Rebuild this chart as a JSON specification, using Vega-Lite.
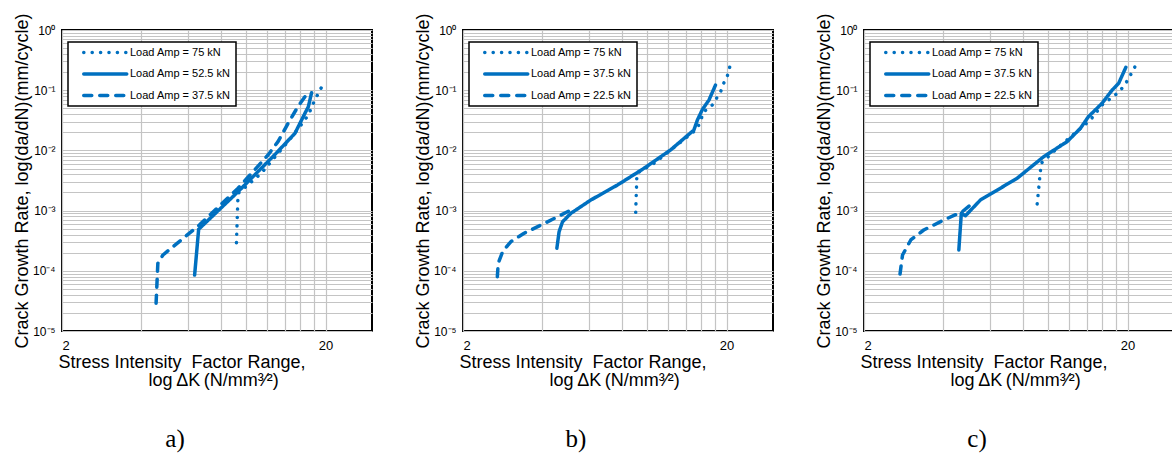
{
  "$schema": "https://vega.github.io/schema/vega-lite/v6.json",
  "padding": {"left": 12, "top": 11, "right": 0, "bottom": 0},
  "background": "white",
  "config": {
    "font": "Liberation Sans",
    "view": {"stroke": "black", "strokeWidth": 2},
    "axis": {
      "domain": false, "ticks": false, "labelOverlap": false, "labelBound": false,
      "gridColor": "#c4c4c4", "gridWidth": 1.2, "gridOpacity": 1,
      "labelFont": "Liberation Sans", "labelColor": "black",
      "titleFont": "Liberation Sans", "titleColor": "black", "titleFontWeight": "normal", "titleFontSize": 18
    },
    "legend": {
      "orient": "none", "legendX": 6, "legendY": 12,
      "strokeColor": "black", "padding": 5, "fillColor": "white",
      "labelFont": "Liberation Sans", "labelFontSize": 11, "labelColor": "black", "labelOffset": 1.25,
      "symbolType": "stroke", "symbolSize": 1849, "symbolStrokeWidth": 3.5, "symbolStrokeColor": "#0070C0",
      "symbolOffset": 8.75, "rowPadding": 9.5, "clipHeight": 11
    },
    "title": {"font": "Liberation Serif", "fontSize": 25, "fontWeight": "normal", "color": "black"}
  },
  "datasets": {
    "a": [
      {"series": "Load Amp = 75 kN", "i": 1, "K": 9.18, "rate": 0.000293},
      {"series": "Load Amp = 75 kN", "i": 2, "K": 9.31, "rate": 0.00194},
      {"series": "Load Amp = 75 kN", "i": 3, "K": 11.4, "rate": 0.00417},
      {"series": "Load Amp = 75 kN", "i": 4, "K": 14.4, "rate": 0.014},
      {"series": "Load Amp = 75 kN", "i": 5, "K": 15.96, "rate": 0.0248},
      {"series": "Load Amp = 75 kN", "i": 6, "K": 17.2, "rate": 0.0387},
      {"series": "Load Amp = 75 kN", "i": 7, "K": 17.96, "rate": 0.0605},
      {"series": "Load Amp = 75 kN", "i": 8, "K": 18.76, "rate": 0.0887},
      {"series": "Load Amp = 75 kN", "i": 9, "K": 19.3, "rate": 0.112},
      {"series": "Load Amp = 52.5 kN", "i": 1, "K": 6.37, "rate": 0.000085},
      {"series": "Load Amp = 52.5 kN", "i": 2, "K": 6.6, "rate": 0.00049},
      {"series": "Load Amp = 52.5 kN", "i": 3, "K": 9.31, "rate": 0.00206},
      {"series": "Load Amp = 52.5 kN", "i": 4, "K": 12.8, "rate": 0.0084},
      {"series": "Load Amp = 52.5 kN", "i": 5, "K": 15.3, "rate": 0.0192},
      {"series": "Load Amp = 52.5 kN", "i": 6, "K": 16.7, "rate": 0.0413},
      {"series": "Load Amp = 52.5 kN", "i": 7, "K": 17.2, "rate": 0.053},
      {"series": "Load Amp = 52.5 kN", "i": 8, "K": 17.7, "rate": 0.091},
      {"series": "Load Amp = 37.5 kN", "i": 1, "K": 4.55, "rate": 0.000029},
      {"series": "Load Amp = 37.5 kN", "i": 2, "K": 4.62, "rate": 0.000133},
      {"series": "Load Amp = 37.5 kN", "i": 3, "K": 4.83, "rate": 0.000183},
      {"series": "Load Amp = 37.5 kN", "i": 4, "K": 6.65, "rate": 0.00058},
      {"series": "Load Amp = 37.5 kN", "i": 5, "K": 9.31, "rate": 0.00235},
      {"series": "Load Amp = 37.5 kN", "i": 6, "K": 12.1, "rate": 0.0084},
      {"series": "Load Amp = 37.5 kN", "i": 7, "K": 13.2, "rate": 0.014},
      {"series": "Load Amp = 37.5 kN", "i": 8, "K": 14.4, "rate": 0.028},
      {"series": "Load Amp = 37.5 kN", "i": 9, "K": 15.7, "rate": 0.0532},
      {"series": "Load Amp = 37.5 kN", "i": 10, "K": 16.7, "rate": 0.078}
    ],
    "b": [
      {"series": "Load Amp = 75 kN", "i": 1, "K": 9.04, "rate": 0.000936},
      {"series": "Load Amp = 75 kN", "i": 2, "K": 9.14, "rate": 0.00417},
      {"series": "Load Amp = 75 kN", "i": 3, "K": 10.6, "rate": 0.0061},
      {"series": "Load Amp = 75 kN", "i": 4, "K": 13.0, "rate": 0.0123},
      {"series": "Load Amp = 75 kN", "i": 5, "K": 15.03, "rate": 0.0205},
      {"series": "Load Amp = 75 kN", "i": 6, "K": 15.7, "rate": 0.0264},
      {"series": "Load Amp = 75 kN", "i": 7, "K": 16.4, "rate": 0.044},
      {"series": "Load Amp = 75 kN", "i": 8, "K": 17.66, "rate": 0.0568},
      {"series": "Load Amp = 75 kN", "i": 9, "K": 18.98, "rate": 0.094},
      {"series": "Load Amp = 75 kN", "i": 10, "K": 19.5, "rate": 0.13},
      {"series": "Load Amp = 75 kN", "i": 11, "K": 20.2, "rate": 0.179},
      {"series": "Load Amp = 75 kN", "i": 12, "K": 20.8, "rate": 0.298},
      {"series": "Load Amp = 37.5 kN", "i": 1, "K": 4.54, "rate": 0.000236},
      {"series": "Load Amp = 37.5 kN", "i": 2, "K": 4.63, "rate": 0.000446},
      {"series": "Load Amp = 37.5 kN", "i": 3, "K": 4.77, "rate": 0.00065},
      {"series": "Load Amp = 37.5 kN", "i": 4, "K": 5.13, "rate": 0.0009},
      {"series": "Load Amp = 37.5 kN", "i": 5, "K": 6.11, "rate": 0.0015},
      {"series": "Load Amp = 37.5 kN", "i": 6, "K": 7.71, "rate": 0.00266},
      {"series": "Load Amp = 37.5 kN", "i": 7, "K": 9.72, "rate": 0.00504},
      {"series": "Load Amp = 37.5 kN", "i": 8, "K": 12.27, "rate": 0.0102},
      {"series": "Load Amp = 37.5 kN", "i": 9, "K": 15.03, "rate": 0.0218},
      {"series": "Load Amp = 37.5 kN", "i": 10, "K": 15.5, "rate": 0.032},
      {"series": "Load Amp = 37.5 kN", "i": 11, "K": 16.2, "rate": 0.048},
      {"series": "Load Amp = 37.5 kN", "i": 12, "K": 17.15, "rate": 0.0687},
      {"series": "Load Amp = 37.5 kN", "i": 13, "K": 18.16, "rate": 0.122},
      {"series": "Load Amp = 22.5 kN", "i": 1, "K": 2.70, "rate": 0.0000797},
      {"series": "Load Amp = 22.5 kN", "i": 2, "K": 2.72, "rate": 0.000133},
      {"series": "Load Amp = 22.5 kN", "i": 3, "K": 2.83, "rate": 0.00021},
      {"series": "Load Amp = 22.5 kN", "i": 4, "K": 3.04, "rate": 0.000305},
      {"series": "Load Amp = 22.5 kN", "i": 5, "K": 3.41, "rate": 0.00042},
      {"series": "Load Amp = 22.5 kN", "i": 6, "K": 4.06, "rate": 0.00061},
      {"series": "Load Amp = 22.5 kN", "i": 7, "K": 5.13, "rate": 0.00102},
      {"series": "Load Amp = 22.5 kN", "i": 8, "K": 5.3, "rate": 0.0011}
    ],
    "c": [
      {"series": "Load Amp = 75 kN", "i": 1, "K": 9.08, "rate": 0.00129},
      {"series": "Load Amp = 75 kN", "i": 2, "K": 9.40, "rate": 0.0061},
      {"series": "Load Amp = 75 kN", "i": 3, "K": 10.8, "rate": 0.0108},
      {"series": "Load Amp = 75 kN", "i": 4, "K": 14.45, "rate": 0.032},
      {"series": "Load Amp = 75 kN", "i": 5, "K": 16.2, "rate": 0.0605},
      {"series": "Load Amp = 75 kN", "i": 6, "K": 17.7, "rate": 0.078},
      {"series": "Load Amp = 75 kN", "i": 7, "K": 19.3, "rate": 0.114},
      {"series": "Load Amp = 75 kN", "i": 8, "K": 20.2, "rate": 0.157},
      {"series": "Load Amp = 75 kN", "i": 9, "K": 21.4, "rate": 0.252},
      {"series": "Load Amp = 37.5 kN", "i": 1, "K": 4.58, "rate": 0.000222},
      {"series": "Load Amp = 37.5 kN", "i": 2, "K": 4.68, "rate": 0.0009},
      {"series": "Load Amp = 37.5 kN", "i": 3, "K": 4.85, "rate": 0.00082},
      {"series": "Load Amp = 37.5 kN", "i": 4, "K": 5.53, "rate": 0.0015},
      {"series": "Load Amp = 37.5 kN", "i": 5, "K": 7.62, "rate": 0.00344},
      {"series": "Load Amp = 37.5 kN", "i": 6, "K": 9.61, "rate": 0.00787},
      {"series": "Load Amp = 37.5 kN", "i": 7, "K": 11.8, "rate": 0.014},
      {"series": "Load Amp = 37.5 kN", "i": 8, "K": 13.25, "rate": 0.0233},
      {"series": "Load Amp = 37.5 kN", "i": 9, "K": 14.2, "rate": 0.0363},
      {"series": "Load Amp = 37.5 kN", "i": 10, "K": 16.0, "rate": 0.0605},
      {"series": "Load Amp = 37.5 kN", "i": 11, "K": 17.46, "rate": 0.1},
      {"series": "Load Amp = 37.5 kN", "i": 12, "K": 18.5, "rate": 0.13},
      {"series": "Load Amp = 37.5 kN", "i": 13, "K": 19.7, "rate": 0.24},
      {"series": "Load Amp = 22.5 kN", "i": 1, "K": 2.74, "rate": 0.0000885},
      {"series": "Load Amp = 22.5 kN", "i": 2, "K": 2.80, "rate": 0.000183},
      {"series": "Load Amp = 22.5 kN", "i": 3, "K": 3.01, "rate": 0.000325},
      {"series": "Load Amp = 22.5 kN", "i": 4, "K": 3.37, "rate": 0.000476},
      {"series": "Load Amp = 22.5 kN", "i": 5, "K": 4.02, "rate": 0.000698},
      {"series": "Load Amp = 22.5 kN", "i": 6, "K": 4.72, "rate": 0.00096},
      {"series": "Load Amp = 22.5 kN", "i": 7, "K": 5.07, "rate": 0.00124},
      {"series": "Load Amp = 22.5 kN", "i": 8, "K": 5.3, "rate": 0.00135}
    ]
  },
  "bounds": "flush",
  "spacing": 91,
  "resolve": {"scale": {"strokeDash": "independent"}, "legend": {"strokeDash": "independent"}},
  "hconcat": [
    {
      "data": {"name": "a"},
      "width": 310, "height": 301,
      "title": {"text": "a)", "orient": "bottom", "anchor": "middle", "dx": -42, "offset": 38},
      "mark": {"type": "line", "color": "#0070C0", "strokeWidth": 3.5, "strokeCap": "round", "strokeJoin": "round"},
      "encoding": {
        "x": {"field": "K", "type": "quantitative", "scale": {"type": "log", "domain": [2, 30], "nice": false},
          "axis": {"values": [2, 4, 6, 8, 10, 12, 14, 16, 18, 20], "labelExpr": "datum.value == 2 ? '2' : datum.value == 20 ? '20' : ''", "labelFontSize": 13, "labelPadding": 8,
            "title": ["Stress Intensity\u00a0 Factor Range,", "\u200b\u00a0\u00a0\u00a0\u00a0\u00a0\u00a0\u00a0\u00a0\u00a0\u00a0\u00a0\u00a0\u00a0\u00a0\u00a0\u00a0\u00a0\u00a0log\u2009ΔK\u2009(N/mm³⁄²)"],
            "titleAlign": "left", "titleAnchor": "start", "titleX": -4, "titleY": 36, "titleBaseline": "alphabetic", "titleLineHeight": 18}},
        "y": {"field": "rate", "type": "quantitative", "scale": {"type": "log", "domain": [0.00001, 1], "nice": false},
          "axis": {"values": [0.00001,0.00002,0.00003,0.00004,0.00005,0.00006,0.00007,0.00008,0.00009,0.0001,0.0002,0.0003,0.0004,0.0005,0.0006,0.0007,0.0008,0.0009,0.001,0.002,0.003,0.004,0.005,0.006,0.007,0.008,0.009,0.01,0.02,0.03,0.04,0.05,0.06,0.07,0.08,0.09,0.1,0.2,0.3,0.4,0.5,0.6,0.7,0.8,0.9,1],
            "labelExpr": "datum.value == 1 ? '10⁰' : datum.value == 0.1 ? '10⁻¹' : datum.value == 0.01 ? '10⁻²' : datum.value == 0.001 ? '10⁻³' : datum.value == 0.0001 ? '10⁻⁴' : datum.value == 0.00001 ? '10⁻⁵' : ''",
            "labelFontSize": 12, "labelPadding": 7,
            "title": "Crack Growth Rate, log(da/dN)(mm/cycle)", "titleX": -40, "titleBaseline": "middle"}},
        "strokeDash": {"field": "series", "type": "nominal",
          "scale": {"domain": ["Load Amp = 75 kN", "Load Amp = 52.5 kN", "Load Amp = 37.5 kN"], "range": [[0.1, 8.3], [1, 0], [8, 8]]},
          "legend": {"title": null,
            "encode": {"symbols": {"update": {"strokeCap": {"value": "round"}}}, "legend": {"update": {"strokeWidth": {"value": 1.5}, "width": {"value": 172}}}}}},
        "order": {"field": "i", "type": "quantitative"}
      }
    },
    {
      "data": {"name": "b"},
      "width": 310, "height": 301,
      "title": {"text": "b)", "orient": "bottom", "anchor": "middle", "dx": -42, "offset": 38},
      "mark": {"type": "line", "color": "#0070C0", "strokeWidth": 3.5, "strokeCap": "round", "strokeJoin": "round"},
      "encoding": {
        "x": {"field": "K", "type": "quantitative", "scale": {"type": "log", "domain": [2, 30], "nice": false},
          "axis": {"values": [2, 4, 6, 8, 10, 12, 14, 16, 18, 20], "labelExpr": "datum.value == 2 ? '2' : datum.value == 20 ? '20' : ''", "labelFontSize": 13, "labelPadding": 8,
            "title": ["Stress Intensity\u00a0 Factor Range,", "\u200b\u00a0\u00a0\u00a0\u00a0\u00a0\u00a0\u00a0\u00a0\u00a0\u00a0\u00a0\u00a0\u00a0\u00a0\u00a0\u00a0\u00a0\u00a0log\u2009ΔK\u2009(N/mm³⁄²)"],
            "titleAlign": "left", "titleAnchor": "start", "titleX": -4, "titleY": 36, "titleBaseline": "alphabetic", "titleLineHeight": 18}},
        "y": {"field": "rate", "type": "quantitative", "scale": {"type": "log", "domain": [0.00001, 1], "nice": false},
          "axis": {"values": [0.00001,0.00002,0.00003,0.00004,0.00005,0.00006,0.00007,0.00008,0.00009,0.0001,0.0002,0.0003,0.0004,0.0005,0.0006,0.0007,0.0008,0.0009,0.001,0.002,0.003,0.004,0.005,0.006,0.007,0.008,0.009,0.01,0.02,0.03,0.04,0.05,0.06,0.07,0.08,0.09,0.1,0.2,0.3,0.4,0.5,0.6,0.7,0.8,0.9,1],
            "labelExpr": "datum.value == 1 ? '10⁰' : datum.value == 0.1 ? '10⁻¹' : datum.value == 0.01 ? '10⁻²' : datum.value == 0.001 ? '10⁻³' : datum.value == 0.0001 ? '10⁻⁴' : datum.value == 0.00001 ? '10⁻⁵' : ''",
            "labelFontSize": 12, "labelPadding": 7,
            "title": "Crack Growth Rate, log(da/dN)(mm/cycle)", "titleX": -40, "titleBaseline": "middle"}},
        "strokeDash": {"field": "series", "type": "nominal",
          "scale": {"domain": ["Load Amp = 75 kN", "Load Amp = 37.5 kN", "Load Amp = 22.5 kN"], "range": [[0.1, 8.3], [1, 0], [8, 8]]},
          "legend": {"title": null,
            "encode": {"symbols": {"update": {"strokeCap": {"value": "round"}}}, "legend": {"update": {"strokeWidth": {"value": 1.5}, "width": {"value": 172}}}}}},
        "order": {"field": "i", "type": "quantitative"}
      }
    },
    {
      "data": {"name": "c"},
      "width": 310, "height": 301,
      "title": {"text": "c)", "orient": "bottom", "anchor": "middle", "dx": -42, "offset": 38},
      "mark": {"type": "line", "color": "#0070C0", "strokeWidth": 3.5, "strokeCap": "round", "strokeJoin": "round"},
      "encoding": {
        "x": {"field": "K", "type": "quantitative", "scale": {"type": "log", "domain": [2, 30], "nice": false},
          "axis": {"values": [2, 4, 6, 8, 10, 12, 14, 16, 18, 20], "labelExpr": "datum.value == 2 ? '2' : datum.value == 20 ? '20' : ''", "labelFontSize": 13, "labelPadding": 8,
            "title": ["Stress Intensity\u00a0 Factor Range,", "\u200b\u00a0\u00a0\u00a0\u00a0\u00a0\u00a0\u00a0\u00a0\u00a0\u00a0\u00a0\u00a0\u00a0\u00a0\u00a0\u00a0\u00a0\u00a0log\u2009ΔK\u2009(N/mm³⁄²)"],
            "titleAlign": "left", "titleAnchor": "start", "titleX": -4, "titleY": 36, "titleBaseline": "alphabetic", "titleLineHeight": 18}},
        "y": {"field": "rate", "type": "quantitative", "scale": {"type": "log", "domain": [0.00001, 1], "nice": false},
          "axis": {"values": [0.00001,0.00002,0.00003,0.00004,0.00005,0.00006,0.00007,0.00008,0.00009,0.0001,0.0002,0.0003,0.0004,0.0005,0.0006,0.0007,0.0008,0.0009,0.001,0.002,0.003,0.004,0.005,0.006,0.007,0.008,0.009,0.01,0.02,0.03,0.04,0.05,0.06,0.07,0.08,0.09,0.1,0.2,0.3,0.4,0.5,0.6,0.7,0.8,0.9,1],
            "labelExpr": "datum.value == 1 ? '10⁰' : datum.value == 0.1 ? '10⁻¹' : datum.value == 0.01 ? '10⁻²' : datum.value == 0.001 ? '10⁻³' : datum.value == 0.0001 ? '10⁻⁴' : datum.value == 0.00001 ? '10⁻⁵' : ''",
            "labelFontSize": 12, "labelPadding": 7,
            "title": "Crack Growth Rate, log(da/dN)(mm/cycle)", "titleX": -40, "titleBaseline": "middle"}},
        "strokeDash": {"field": "series", "type": "nominal",
          "scale": {"domain": ["Load Amp = 75 kN", "Load Amp = 37.5 kN", "Load Amp = 22.5 kN"], "range": [[0.1, 8.3], [1, 0], [8, 8]]},
          "legend": {"title": null,
            "encode": {"symbols": {"update": {"strokeCap": {"value": "round"}}}, "legend": {"update": {"strokeWidth": {"value": 1.5}, "width": {"value": 172}}}}}},
        "order": {"field": "i", "type": "quantitative"}
      }
    }
  ]
}
